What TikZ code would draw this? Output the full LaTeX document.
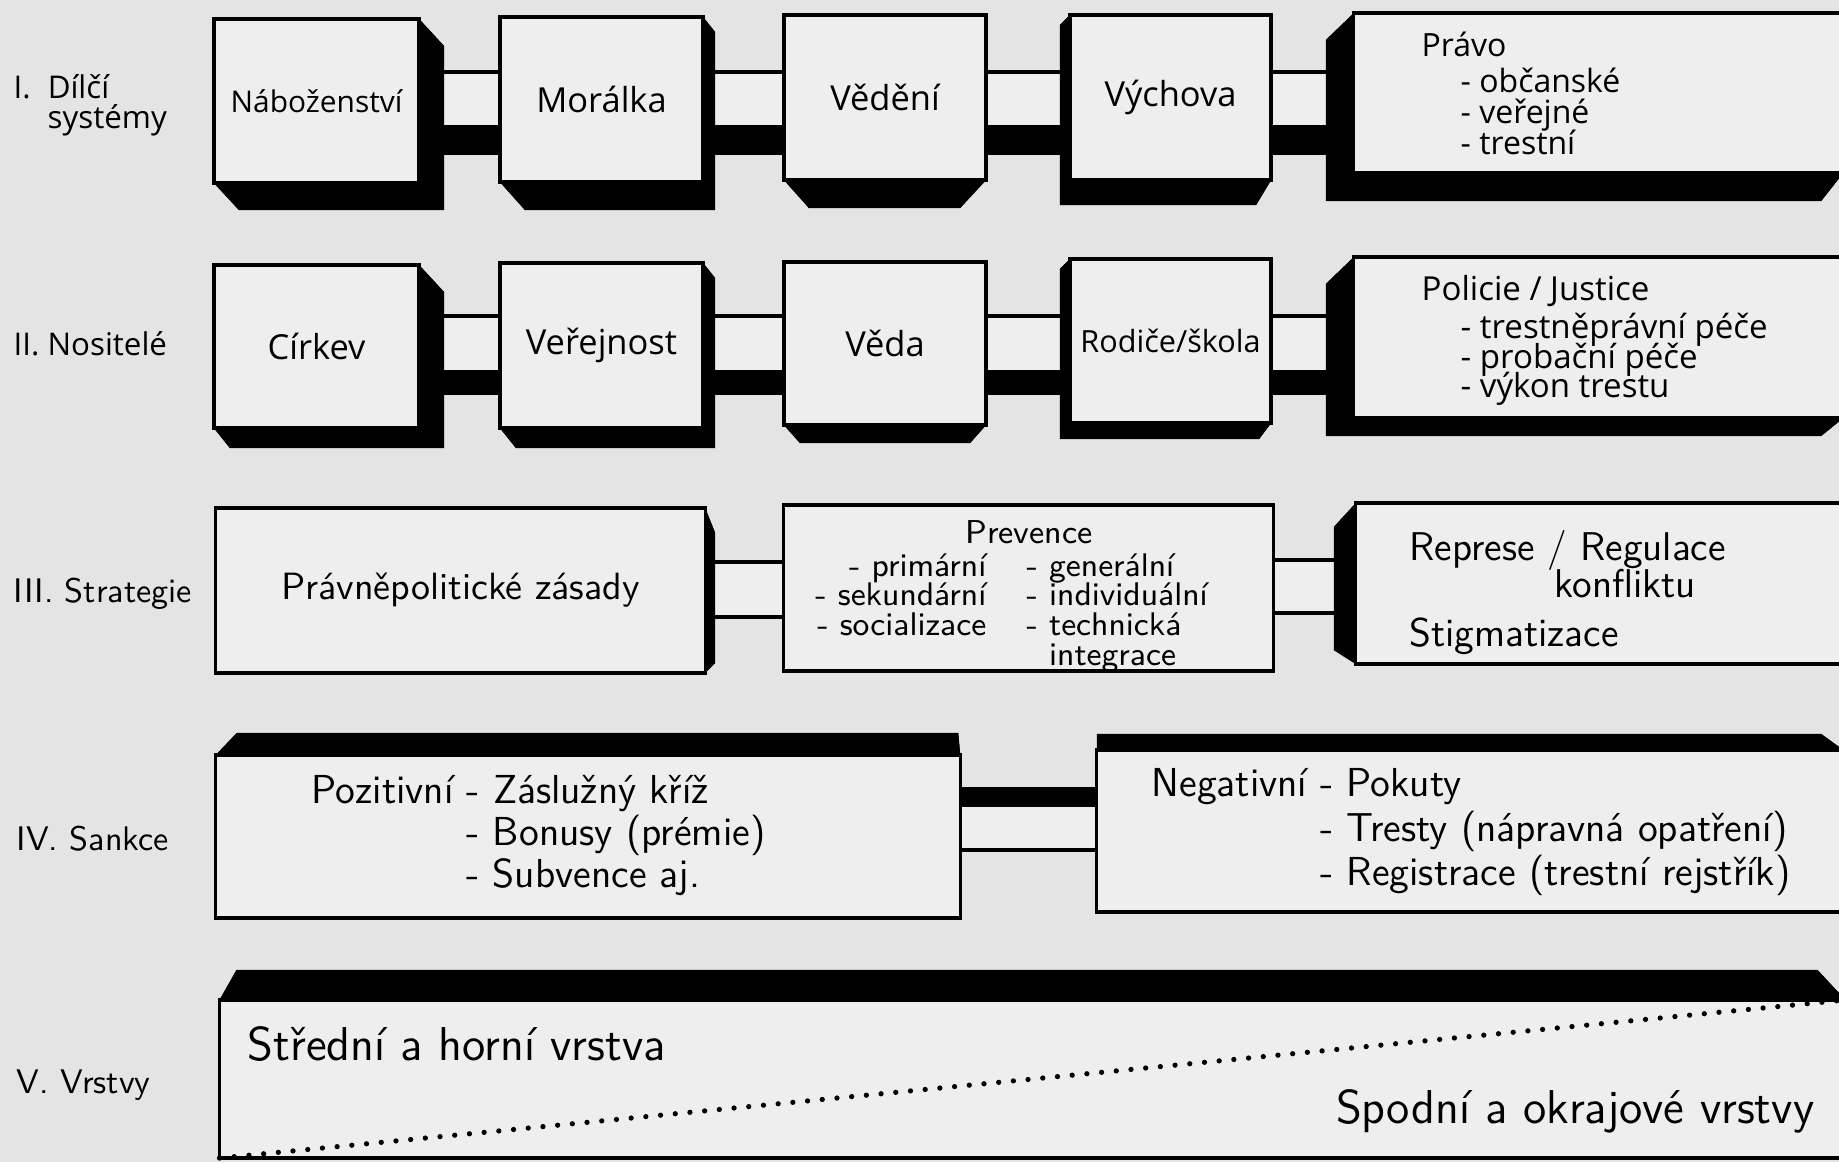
\documentclass[tikz,border=0pt]{standalone}
\usepackage{fontspec}
\newfontfamily\frut{Open Sans}
\usetikzlibrary{calc}

\definecolor{papir}{RGB}{228,228,228}
\definecolor{plocha}{RGB}{238,238,238}

\pgfdeclarelayer{spodek}
\pgfdeclarelayer{stiny}
\pgfsetlayers{spodek,stiny,main}

\lineskiplimit=-20pt

\tikzset{
  kvadr/.style={draw, fill=plocha, line width=0.9pt, outer sep=0pt, inner sep=0pt},
  tram/.style={draw, fill=plocha, line width=0.9pt},
  popis/.style={inner sep=0pt, align=left},
  horni/.style={font=\frut\fontsize{9.8}{11}\selectfont},
  dolni/.style={font=\sffamily\fontsize{9.7}{11}\selectfont},
}

% black sides of a box: node, dx left, dy top, dx right, dy bottom
\newcommand{\hloubka}[5]{%
  \fill ($(#1.north west)+(#2,#3)$) rectangle ($(#1.south east)+(#4,#5)$);
  \fill (#1.north west) -- (#1.north east) -- ($(#1.north east)+(#4,#3)$) -- ($(#1.north west)+(#2,#3)$) -- cycle;
  \fill (#1.north east) -- (#1.south east) -- ($(#1.south east)+(#4,#5)$) -- ($(#1.north east)+(#4,#3)$) -- cycle;
  \fill (#1.south east) -- (#1.south west) -- ($(#1.south west)+(#2,#5)$) -- ($(#1.south east)+(#4,#5)$) -- cycle;
  \fill (#1.south west) -- (#1.north west) -- ($(#1.north west)+(#2,#3)$) -- ($(#1.south west)+(#2,#5)$) -- cycle;
}

\begin{document}
\begin{tikzpicture}[x=0.01cm, y=-0.01cm]
\useasboundingbox (0,0) rectangle (1839,1162);
\begin{pgfonlayer}{spodek}
  \fill[papir] (0,0) rectangle (1839,1162);
\end{pgfonlayer}

% I. Dilci systemy
\node[popis, anchor=north west, font=\frut\fontsize{8.9}{8.6}\selectfont] (l1) at (13,74) {I.\hspace*{0.17cm}Dílčí\\\hspace*{0.34cm}systémy};
\node[kvadr, horni, minimum width=2.05cm, minimum height=1.64cm] (nab) at (316.5,101) {\fontsize{8.5}{10}\selectfont Náboženství};
\node[kvadr, horni, minimum width=2.03cm, minimum height=1.65cm] (mor) at (601.5,99.5) {Morálka};
\node[kvadr, horni, minimum width=2.02cm, minimum height=1.65cm] (ved) at (885,97.5) {Vědění};
\node[kvadr, horni, minimum width=2.01cm, minimum height=1.65cm] (vych) at (1170.5,97.5) {Výchova};
\node[kvadr, minimum width=4.89cm, minimum height=1.60cm] (pravo) at (1598.5,93) {};
\node[popis, anchor=north west, font=\frut\fontsize{9.1}{8.8}\selectfont] (pravo-t) at (1421,31)
  {Právo\\[1.5pt]\hspace*{0.39cm}- občanské\\\hspace*{0.39cm}- veřejné\\\hspace*{0.39cm}- trestní};

% II. Nositele
\node[popis, anchor=base west, font=\frut\fontsize{8.9}{10}\selectfont] (l2) at (13,355) {II. Nositelé};
\node[kvadr, horni, minimum width=2.05cm, minimum height=1.63cm] (cirkev) at (316.5,346.5) {Církev};
\node[kvadr, horni, minimum width=2.03cm, minimum height=1.65cm] (verej) at (601.5,345.5) {Veřejnost};
\node[kvadr, horni, minimum width=2.02cm, minimum height=1.63cm] (veda) at (885,343.5) {Věda};
\node[kvadr, horni, minimum width=2.01cm, minimum height=1.64cm] (rodice) at (1170.5,341) {\fontsize{8.7}{10}\selectfont Rodiče/škola};
\node[kvadr, minimum width=4.89cm, minimum height=1.61cm] (policie) at (1598.5,337.5) {};
\node[popis, anchor=north west, font=\frut\fontsize{9.4}{8.3}\selectfont] (policie-t) at (1421,275)
  {Policie / Justice\\[2.5pt]\hspace*{0.39cm}- trestněprávní péče\\\hspace*{0.39cm}- probační péče\\\hspace*{0.39cm}- výkon trestu};

% III. Strategie
\node[popis, anchor=base west, dolni] (l3) at (13,602) {III. Strategie};
\node[kvadr, font=\sffamily\fontsize{10.8}{12}\selectfont, minimum width=4.89cm, minimum height=1.65cm] (zasady) at (460.5,590.5) {Právněpolitické zásady};
\node[kvadr, minimum width=4.89cm, minimum height=1.66cm] (prevence) at (1028.5,588) {};
\node[popis, anchor=base, font=\sffamily\fontsize{9.4}{10}\selectfont] (prev-nadpis) at (1029,543) {Prevence};
\node[popis, align=right, anchor=north east, font=\sffamily\fontsize{9.3}{8.4}\selectfont] (prev-l) at (987,553)
  {- primární\\- sekundární\\- socializace};
\node[popis, anchor=north west, font=\sffamily\fontsize{9.3}{8.4}\selectfont] (prev-r) at (1026,553)
  {- generální\\- individuální\\- technická\\\phantom{- }integrace};
\node[kvadr, minimum width=4.87cm, minimum height=1.61cm] (represe) at (1599.5,583.5) {};
\node[popis, anchor=north west, font=\sffamily\fontsize{11.4}{10.5}\selectfont] (represe-t) at (1409,530)
  {Represe / Regulace\\\hspace*{1.45cm}konfliktu\\[3.4pt]Stigmatizace};

% IV. Sankce
\node[popis, anchor=base west, dolni] (l4) at (16,850) {IV. Sankce};
\node[kvadr, minimum width=7.44cm, minimum height=1.63cm] (poz) at (588,836.5) {};
\node[popis, anchor=north west, font=\sffamily\fontsize{11.5}{11.9}\selectfont] (poz-t) at (311,775)
  {Pozitivní - Záslužný kříž\\\phantom{Pozitivní }- Bonusy (prémie)\\\phantom{Pozitivní }- Subvence aj.};
\node[kvadr, minimum width=7.46cm, minimum height=1.62cm] (neg) at (1470,831) {};
\node[popis, anchor=north west, font=\sffamily\fontsize{11.5}{12.6}\selectfont] (neg-t) at (1151,768)
  {Negativní - Pokuty\\\phantom{Negativní }- Tresty (nápravná opatření)\\\phantom{Negativní }- Registrace (trestní rejstřík)};

% V. Vrstvy
\node[popis, anchor=base west, dolni] (l5) at (16,1093) {V. Vrstvy};
\node[kvadr, minimum width=16.25cm, minimum height=1.58cm] (vrstvy) at (1032.5,1079) {};
\node[popis, anchor=base west, font=\sffamily\fontsize{13.5}{15}\selectfont] (vrstva-h) at (247,1060) {Střední a horní vrstva};
\node[popis, anchor=base east, font=\sffamily\fontsize{13.5}{15}\selectfont] (vrstva-s) at (1815,1123) {Spodní a okrajové vrstvy};
\draw[line width=1.5pt, dash pattern=on 0pt off 4.2pt, line cap=round] (vrstvy.south west) -- (vrstvy.north east);

\begin{pgfonlayer}{stiny}
  % beams between the boxes
  \foreach \a/\b in {nab/mor,mor/ved,ved/vych,vych/pravo}{
    \fill (\a.east |- 0,72) rectangle (\b.west |- 0,155);
    \draw[tram] (\a.east |- 0,72) rectangle (\b.west |- 0,127);
  }
  \foreach \a/\b in {cirkev/verej,verej/veda,veda/rodice,rodice/policie}{
    \fill (\a.east |- 0,316) rectangle (\b.west |- 0,395);
    \draw[tram] (\a.east |- 0,316) rectangle (\b.west |- 0,372);
  }
  \draw[tram] (zasady.east |- 0,562) rectangle (prevence.west |- 0,617);
  \draw[tram] (prevence.east |- 0,560) rectangle (represe.west |- 0,613);
  \fill (poz.east |- 0,787) rectangle (neg.west |- 0,850);
  \draw[tram] (poz.east |- 0,805) rectangle (neg.west |- 0,850);

  % black sides
  \hloubka{nab}{25}{27}{25}{27}
  \hloubka{mor}{25}{15}{12}{28}
  \hloubka{ved}{25}{15}{-26}{28}
  \hloubka{vych}{-10}{10}{-15}{25}
  \hloubka{pravo}{-28}{27}{-22}{28}
  \hloubka{cirkev}{16}{27}{25}{20}
  \hloubka{verej}{16}{15}{12}{20}
  \hloubka{veda}{16}{15}{-16}{18}
  \hloubka{rodice}{-10}{10}{-12}{16}
  \hloubka{policie}{-28}{27}{-22}{18}
  \hloubka{zasady}{10}{25}{10}{-10}
  \hloubka{represe}{-22}{24}{-10}{-14}
  \hloubka{poz}{21}{-22}{-2}{-10}
  \hloubka{neg}{0}{-16}{-22}{-10}
  \hloubka{vrstvy}{17}{-30}{-28}{0}
\end{pgfonlayer}
\end{tikzpicture}
\end{document}
